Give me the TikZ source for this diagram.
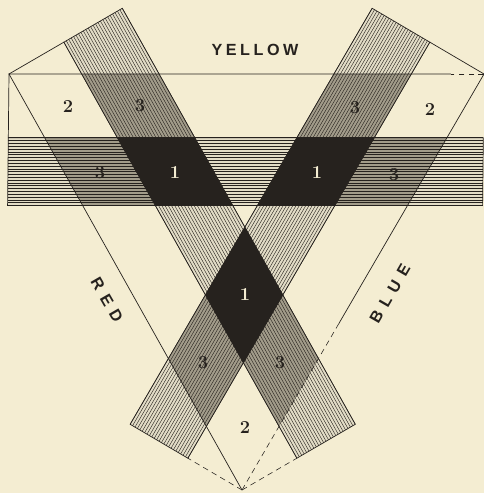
\documentclass[tikz,border=0pt]{standalone}
\usepackage{fontspec}
\usetikzlibrary{calc}
\newfontfamily\capsfont{Liberation Sans}
\definecolor{paper}{RGB}{244,237,210}
\definecolor{ink}{RGB}{38,34,30}
\definecolor{tintlight}{RGB}{226,220,198}
\definecolor{tintdark}{RGB}{162,156,138}

\tikzset{
  edge/.style={ink,line width=0.5pt},
  guide/.style={ink,line width=0.4pt,dash pattern=on 4pt off 3pt},
  hatch/.style={ink,line width=0.3pt},
  num/.style={ink,font=\fontsize{13}{15}\selectfont\bfseries},
  numw/.style={num,text=paper},
  side/.style={ink,font=\capsfont\bfseries\fontsize{11.5}{13}\selectfont},
}

\begin{document}
\begin{tikzpicture}[x=0.25mm,y=-0.25mm]
  \useasboundingbox (0,0) rectangle (484,493);
  \fill[paper] (0,0) rectangle (484,493);
  % triangle frame: b along PQ, c along PR
  \begin{scope}[shift={(2.25mm,-18.5mm)},x={(118.75mm,0mm)},y={(58.25mm,-104mm)}]
    \def\ka{0.153}
    \def\kb{0.316}
    \coordinate (P) at (0,0);
    \coordinate (Q) at (1,0);
    \coordinate (R) at (0,1);
    % yellow band (parallel to PQ)
    \coordinate (y1) at ({-\ka/2},{\ka});
    \coordinate (y2) at ({1-\ka/2},{\ka});
    \coordinate (y3) at ({1-\kb/2},{\kb});
    \coordinate (y4) at ({-\kb/2},{\kb});
    % red band (parallel to PR)
    \coordinate (r1) at ({\ka},{-\ka/2});
    \coordinate (r2) at ({\kb},{-\kb/2});
    \coordinate (r3) at ({\kb},{1-\kb/2});
    \coordinate (r4) at ({\ka},{1-\ka/2});
    % blue band (parallel to QR)
    \coordinate (b1) at ({1-\ka/2},{-\ka/2});
    \coordinate (b2) at ({1-\kb/2},{-\kb/2});
    \coordinate (b3) at ({-\kb/2},{1-\kb/2});
    \coordinate (b4) at ({-\ka/2},{1-\ka/2});
    % light tint on the bands
    \fill[tintlight] (y1) -- (y2) -- (y3) -- (y4) -- cycle;
    \fill[tintlight] (r1) -- (r2) -- (r3) -- (r4) -- cycle;
    \fill[tintlight] (b1) -- (b2) -- (b3) -- (b4) -- cycle;
    % dark tint: regions 3
    \fill[tintdark] ({\ka},0) -- ({\kb},0) -- ({\kb},{\ka}) -- ({\ka},{\ka}) -- cycle;
    \fill[tintdark] ({1-\ka},0) -- ({1-\kb},0) -- ({1-\kb-\ka},{\ka}) -- ({1-2*\ka},{\ka}) -- cycle;
    \fill[tintdark] (0,{\ka}) -- ({\ka},{\ka}) -- ({\ka},{\kb}) -- (0,{\kb}) -- cycle;
    \fill[tintdark] ({1-2*\ka},{\ka}) -- ({1-\ka},{\ka}) -- ({1-\kb},{\kb}) -- ({1-\ka-\kb},{\kb}) -- cycle;
    \fill[tintdark] ({\ka},{1-2*\ka}) -- ({\ka},{1-\ka}) -- ({\kb},{1-\kb}) -- ({\kb},{1-\ka-\kb}) -- cycle;
    \fill[tintdark] (0,{1-\kb}) -- (0,{1-\ka}) -- ({\ka},{1-2*\ka}) -- ({\ka},{1-\ka-\kb}) -- cycle;
    % hatching along each band
    \foreach \i in {0,...,24}{
      \pgfmathsetmacro\pos{\ka+\i*(\kb-\ka)/24}
      \draw[hatch] ({-\pos/2},{\pos}) -- ({1-\pos/2},{\pos});
      \draw[hatch] ({\pos},{-\pos/2}) -- ({\pos},{1-\pos/2});
      \draw[hatch] ({1-\pos/2},{-\pos/2}) -- ({-\pos/2},{1-\pos/2});
    }
    % black: regions 1
    \fill[ink] ({\ka},{\ka}) -- ({\kb},{\ka}) -- ({\kb},{\kb}) -- ({\ka},{\kb}) -- cycle;
    \fill[ink] ({1-2*\ka},{\ka}) -- ({1-\ka-\kb},{\ka}) -- ({1-2*\kb},{\kb}) -- ({1-\ka-\kb},{\kb}) -- cycle;
    \fill[ink] ({\ka},{1-2*\ka}) -- ({\kb},{1-\ka-\kb}) -- ({\kb},{1-2*\kb}) -- ({\ka},{1-\ka-\kb}) -- cycle;
    % outlines
    \draw[edge] (y1) -- (y2) -- (y3) -- (y4) -- cycle;
    \draw[edge] (r1) -- (r2) -- (r3) -- (r4) -- cycle;
    \draw[edge] (b1) -- (b2) -- (b3) -- (b4) -- cycle;
    \draw[edge] ($(Q)!0.07!(P)$) -- (P) -- (R);
    \draw[guide] (Q) -- ($(Q)!0.07!(P)$);
    \draw[edge] (Q) -- ($(Q)!0.6!(R)$);
    \draw[guide] ($(Q)!0.6!(R)$) -- (R);
    \draw[edge] (P) -- (r1);
    \draw[edge] (P) -- (y1);
    \draw[edge] (Q) -- (b1);
    \draw[guide] (R) -- (r4);
    \draw[guide] (R) -- (b4);
  \end{scope}
  % side names
  \node[side] (yellow) at (255,50) {Y\hspace{2.5pt}E\hspace{2.5pt}L\hspace{2.5pt}L\hspace{2.5pt}O\hspace{2.5pt}W};
  \node[side,rotate=-60] (red) at (107,300) {R\hspace{5pt}E\hspace{5pt}D};
  \node[side,rotate=60] (blue) at (390,294) {B\hspace{5pt}L\hspace{5pt}U\hspace{5pt}E};
  % region numbers
  \node[num] (n2a) at (68,107) {2};
  \node[num] (n3a) at (140,106) {3};
  \node[num] (n3b) at (355,108) {3};
  \node[num] (n2b) at (430,110) {2};
  \node[num] (n3c) at (100,173) {3};
  \node[numw] (n1a) at (175,173) {1};
  \node[numw] (n1b) at (317,173) {1};
  \node[num] (n3d) at (394,175) {3};
  \node[numw] (n1c) at (245,295) {1};
  \node[num] (n3e) at (203,363) {3};
  \node[num] (n3f) at (280,363) {3};
  \node[num] (n2c) at (245,428) {2};
\end{tikzpicture}
\end{document}
